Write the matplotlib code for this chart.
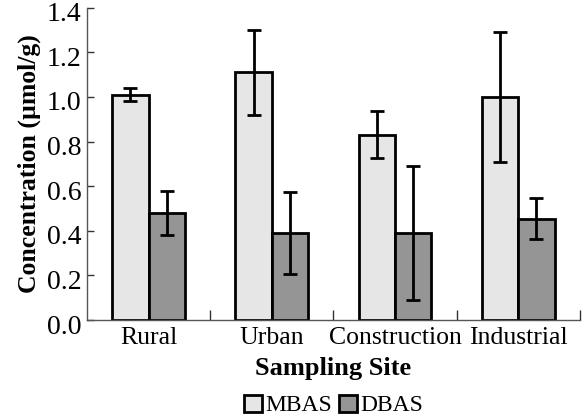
import matplotlib
matplotlib.use("Agg")
import matplotlib.pyplot as plt
import matplotlib.transforms as mtransforms
import numpy as np

categories = ["Rural", "Urban", "Construction", "Industrial"]
mbas = [1.01, 1.11, 0.83, 1.00]
mbas_err = [0.03, 0.19, 0.105, 0.29]
dbas = [0.48, 0.39, 0.39, 0.455]
dbas_err = [0.10, 0.185, 0.30, 0.09]
yticks = [0.0, 0.2, 0.4, 0.6, 0.8, 1.0, 1.2, 1.4]

plt.rcParams['font.family'] = ['Liberation Serif', 'DejaVu Serif']

fig = plt.figure(figsize=(5.88, 4.19), dpi=100)
ax = fig.add_axes([0.148, 0.236, 0.838, 0.746])

x = np.arange(len(categories)) + 0.5
w = 0.295
err_kw = dict(ecolor='black', elinewidth=2, capsize=5, capthick=2)
ax.bar(x - w/2, mbas, w, color='#e6e6e6', edgecolor='black', linewidth=2,
       yerr=mbas_err, error_kw=err_kw, label='MBAS', zorder=2)
ax.bar(x + w/2, dbas, w, color='#959595', edgecolor='black', linewidth=2,
       yerr=dbas_err, error_kw=err_kw, label='DBAS', zorder=2)

ax.set_xlim(0, 4)
ax.set_ylim(0, 1.4)
ax.set_yticks(yticks)
ax.set_yticklabels([f"{v:.1f}" for v in yticks], fontsize=20)
ax.tick_params(axis='y', direction='in', length=5, width=1, color='#333333', pad=4)
offset = mtransforms.ScaledTranslation(0, -4/100, fig.dpi_scale_trans)
for lab in ax.get_yticklabels():
    lab.set_transform(lab.get_transform() + offset)
ax.set_xticks([1, 2, 3, 4])
ax.set_xticklabels([])
ax.set_xticks(x, minor=True)
ax.set_xticklabels(categories, minor=True, fontsize=18.5)
ax.tick_params(axis='x', which='major', direction='in', length=7, width=1, color='#333333')
ax.tick_params(axis='x', which='minor', length=0, pad=5)

for s in ['top', 'right']:
    ax.spines[s].set_visible(False)
for s in ['left', 'bottom']:
    ax.spines[s].set_color('#555555')
    ax.spines[s].set_linewidth(1)

ax.set_ylabel("Concentration (µmol/g)", fontsize=18.5, fontweight='bold', labelpad=4)
ax.set_xlabel("Sampling Site", fontsize=19, fontweight='bold', labelpad=6)

leg = ax.legend(loc='upper center', bbox_to_anchor=(0.5, -0.238), ncol=2, frameon=False,
                fontsize=17, handlelength=0.75, handleheight=0.75, handletextpad=0.15,
                columnspacing=0.3, borderaxespad=0, borderpad=0)

fig.savefig("out.png", dpi=100)
